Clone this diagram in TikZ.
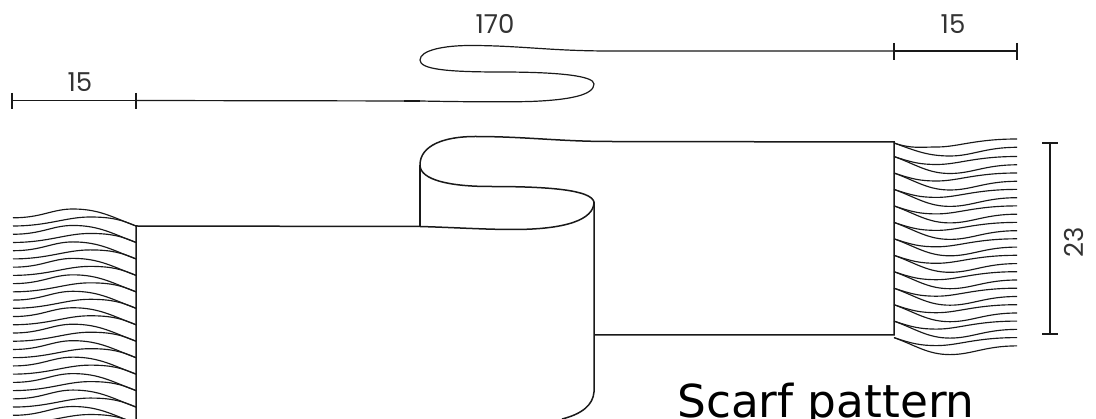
\documentclass[tikz,border=0pt]{standalone}
\usepackage{fontspec}
\setmainfont{Poppins}
\newfontfamily\titlefont{DejaVu Sans}
\tikzset{
  outline/.style={black!90,line width=1.5pt},
  fringe/.style={black!90,line width=1.15pt},
  dimline/.style={black!90,line width=1.2pt},
  dimtext/.style={inner sep=0pt,font=\fontsize{26}{26}\selectfont,text=black!80}
}
\begin{document}
\begin{tikzpicture}[x=1pt,y=-1pt]
   \useasboundingbox (0,0) rectangle (1096,419);
   \clip (0,0) rectangle (1096,419);
   % left fringe
   \foreach \i in {0,...,12} {
     \pgfmathsetmacro{\a}{226+16.46*\i}
     \draw [fringe] (136,\a) .. controls (114,\a-8) and (100,\a-17) .. (73,\a-17)
        .. controls (52,\a-17) and (42,\a-8.2) .. (13,\a-8.2);
     \draw [fringe] (136,\a) .. controls (122,\a-6) and (112,\a-9) .. (90,\a-9)
        .. controls (66,\a-9) and (48,\a) .. (13,\a);
   }
   % right fringe
   \foreach \a/\b in {143/139,156.5/156.5,173/173,189.4/189.4,205.9/205.9,222.4/222.4,238.8/238.8,255.3/255.3,271.7/271.7,288.2/288.2,304.7/304.7,321.1/321.1,337.6/337.6} {
     \draw [fringe] (894,\a) .. controls (912,\a+6) and (920,\b+8) .. (937,\b+8)
        .. controls (958,\b+8) and (975,\b) .. (1017,\b);
     \draw [fringe] (894,\a) .. controls (916,\a+8) and (928,\b+17) .. (950,\b+17)
        .. controls (972,\b+17) and (985,\b+8.3) .. (1017,\b+8.3);
   }
   % scarf
   \draw [outline] (136,419) -- (136,226) -- (420,226.5)
      .. controls (455,227.5) and (485,229.5) .. (513,229.5)
      .. controls (565,229.5) and (594,220) .. (594,202)
      .. controls (591,190) and (550,186.5) .. (490,186.5)
      .. controls (450,186.5) and (420,180) .. (420,165)
      .. controls (420,145) and (445,136.5) .. (475,136.5)
      .. controls (525,136.5) and (560,141.5) .. (610,141.5)
      -- (894,142) -- (894,335) -- (594,335);
   \draw [outline] (420,165) -- (420,226.5);
   \draw [outline] (594,202) -- (594,392)
      .. controls (593,405) and (582,414) .. (562,419);
   % length measure
   \draw [dimline] (136,100.5) -- (420,101)
      .. controls (470,102) and (510,102) .. (530,101.5)
      .. controls (570,100) and (594,95) .. (594,84)
      .. controls (594,76) and (560,72) .. (500,72)
      .. controls (445,72) and (420,69) .. (420,60)
      .. controls (420,50) and (445,45.5) .. (470,45.5)
      .. controls (520,45.5) and (550,51) .. (610,51)
      -- (894,51);
   \draw [line width=1.8pt,black!90] (404,101) -- (420,101);
   \draw [dimline] (12,100.5) -- (136,100.5);
   \draw [dimline] (12,93) -- (12,109);
   \draw [dimline] (136,93) -- (136,109);
   \draw [dimline] (894,51) -- (1017,51);
   \draw [dimline] (894,43) -- (894,60);
   \draw [dimline] (1017,43) -- (1017,60);
   \draw [dimline] (1050,143) -- (1050,334);
   \draw [dimline] (1042,143) -- (1058,143);
   \draw [dimline] (1042,334) -- (1058,334);
   \node [dimtext] (lenlabel) at (495,24) {170};
   \node [dimtext] (fringeright) at (953,24) {15};
   \node [dimtext] (fringeleft) at (80,82) {15};
   \node [dimtext,rotate=90] (widthlabel) at (1074,242) {23};
   \node [anchor=base west,inner sep=0pt,font=\titlefont\fontsize{45.4}{45.4}\selectfont,text=black] (titlelabel) at (677,418) {Scarf pattern};
\end{tikzpicture}
\end{document}
